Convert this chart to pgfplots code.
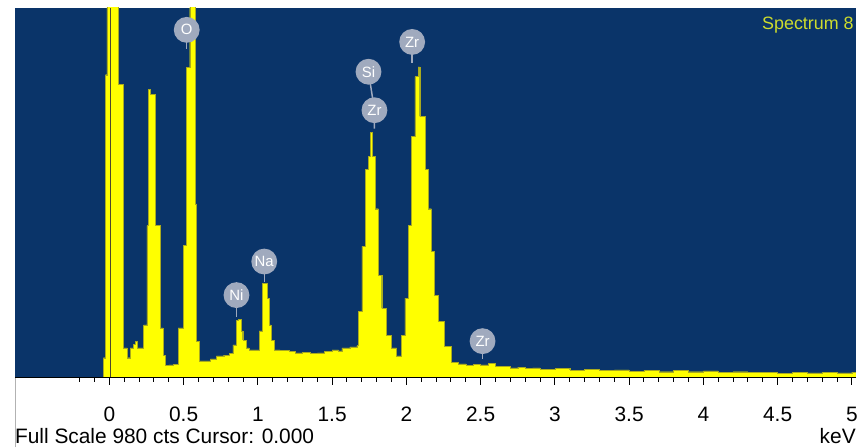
\documentclass[border=0pt]{standalone}
\usepackage{fontspec}
\setmainfont{Liberation Sans}
\usepackage{pgfplots}
\pgfplotsset{compat=1.18}
\definecolor{bgblue}{RGB}{10,52,105}
\definecolor{specyellow}{RGB}{255,255,0}
\definecolor{edgeol}{RGB}{170,170,30}
\definecolor{lblgray}{RGB}{160,170,190}
\definecolor{titlegreen}{RGB}{205,220,45}
\begin{document}
\begin{tikzpicture}
\fill[white] (0,0) rectangle (861pt,450pt);
\begin{axis}[
    name=ax,
    at={(15pt,70pt)}, anchor=south west,
    scale only axis,
    width=846pt, height=372pt,
    xmin=-0.636, xmax=5.027,
    ymin=0, ymax=980,
    axis on top,
    axis line style={draw=none},
    axis background/.style={fill=bgblue},
    ytick=\empty,
    xtick={0,0.5,...,5},
    xticklabels={0,0.5,1,1.5,2,2.5,3,3.5,4,4.5,5},
    minor xtick={-0.2,-0.1,...,5.0},
    tick align=outside,
    xtick pos=bottom,
    major tick length=7pt, minor tick length=4pt,
    tick style={draw=black, line width=1pt},
    xticklabel style={font=\fontsize{21}{24}\selectfont, anchor=base, yshift=-37pt},
    /pgf/number format/assume math mode=true,
]
\addplot[const plot, mark=none, fill=specyellow, draw=edgeol, line width=0.4pt] coordinates {
(-0.06,0) (-0.04,53) (-0.027,803) (-0.016,1500) (0.007,1500) (0.029,1500)
(0.062,777) (0.096,79) (0.12,53) (0.14,79) (0.16,88) (0.174,97) (0.185,79)
(0.23,140) (0.252,403) (0.263,764) (0.275,751) (0.307,403) (0.341,132)
(0.36,60) (0.374,32) (0.4,34) (0.43,35) (0.463,132) (0.497,350) (0.519,822)
(0.541,1500) (0.575,461) (0.586,97) (0.608,45) (0.63,45) (0.68,50) (0.72,58)
(0.77,60) (0.809,65) (0.831,87) (0.854,153) (0.87,155) (0.887,124) (0.898,100)
(0.92,79) (0.94,74) (0.987,74) (1.009,124) (1.031,250) (1.065,211) (1.076,140)
(1.088,100) (1.11,74) (1.15,72) (1.21,70) (1.25,66) (1.3,68) (1.35,64) (1.4,66)
(1.45,70) (1.5,74) (1.544,71) (1.566,79) (1.62,82) (1.667,85) (1.678,176)
(1.7,348) (1.722,553) (1.745,587) (1.756,651) (1.767,587) (1.789,448)
(1.811,271) (1.834,184) (1.867,113) (1.9,79) (1.934,58) (1.967,113) (1.99,211)
(2.012,403) (2.034,640) (2.057,798) (2.079,824) (2.09,693) (2.124,553)
(2.146,448) (2.168,335) (2.19,219) (2.213,150) (2.257,84) (2.301,40)
(2.35,37) (2.4,32) (2.45,36) (2.5,34) (2.55,38) (2.6,30) (2.65,30) (2.7,26)
(2.75,28) (2.8,24) (2.85,26) (2.9,22) (3.0,24) (3.1,20) (3.2,22) (3.3,19)
(3.4,21) (3.5,17) (3.6,19) (3.7,16) (3.8,20) (3.9,16) (4.0,18) (4.1,14)
(4.2,16) (4.3,14) (4.4,15) (4.5,12) (4.6,15) (4.7,13) (4.8,14) (4.9,13)
(5.0,15) (5.1,13)
} \closedcycle;
\draw[black!60!olive, line width=1.6pt] (axis cs:0.008,0) -- (axis cs:0.008,980);
% element labels
\draw[lblgray, line width=1.5pt] (axis cs:0.521,922) -- (axis cs:0.521,870);
\draw[lblgray, line width=1.5pt] (axis cs:1.745,811) -- (axis cs:1.785,709) -- (axis cs:1.785,660);
\draw[lblgray, line width=1.5pt] (axis cs:2.039,890) -- (axis cs:2.039,835);
\draw[lblgray, line width=1.5pt] (axis cs:1.043,308) -- (axis cs:1.043,255);
\draw[lblgray, line width=1.5pt] (axis cs:0.856,219) -- (axis cs:0.856,160);
\draw[lblgray, line width=1.5pt] (axis cs:2.513,97) -- (axis cs:2.513,50);
\tikzset{elem/.style={circle, fill=lblgray, text=white, minimum size=26pt, inner sep=0pt, font=\fontsize{15}{16}\selectfont}}
\node[elem] at (axis cs:0.521,922) {O};
\node[elem] at (axis cs:1.745,811) {Si};
\node[elem] at (axis cs:1.785,709) {Zr};
\node[elem] at (axis cs:2.039,890) {Zr};
\node[elem] at (axis cs:1.043,308) {Na};
\node[elem] at (axis cs:0.856,219) {Ni};
\node[elem] at (axis cs:2.513,97) {Zr};
\end{axis}
\draw[black, line width=1pt] (ax.south west) -- (ax.south east);
\draw[gray!60, line width=0.8pt] (15.4pt,0) -- (15.4pt,70pt);
\node[anchor=base east, text=titlegreen, font=\fontsize{18}{20}\selectfont, inner sep=0pt] at (859pt,420pt) {Spectrum 8};
\node[anchor=base west, font=\fontsize{21}{24}\selectfont, inner sep=0pt] at (15pt,3.5pt) {Full Scale 980 cts Cursor: 0.000};
\node[anchor=base east, font=\fontsize{21}{24}\selectfont, inner sep=0pt] at (861pt,3.5pt) {keV};
\end{tikzpicture}
\end{document}
